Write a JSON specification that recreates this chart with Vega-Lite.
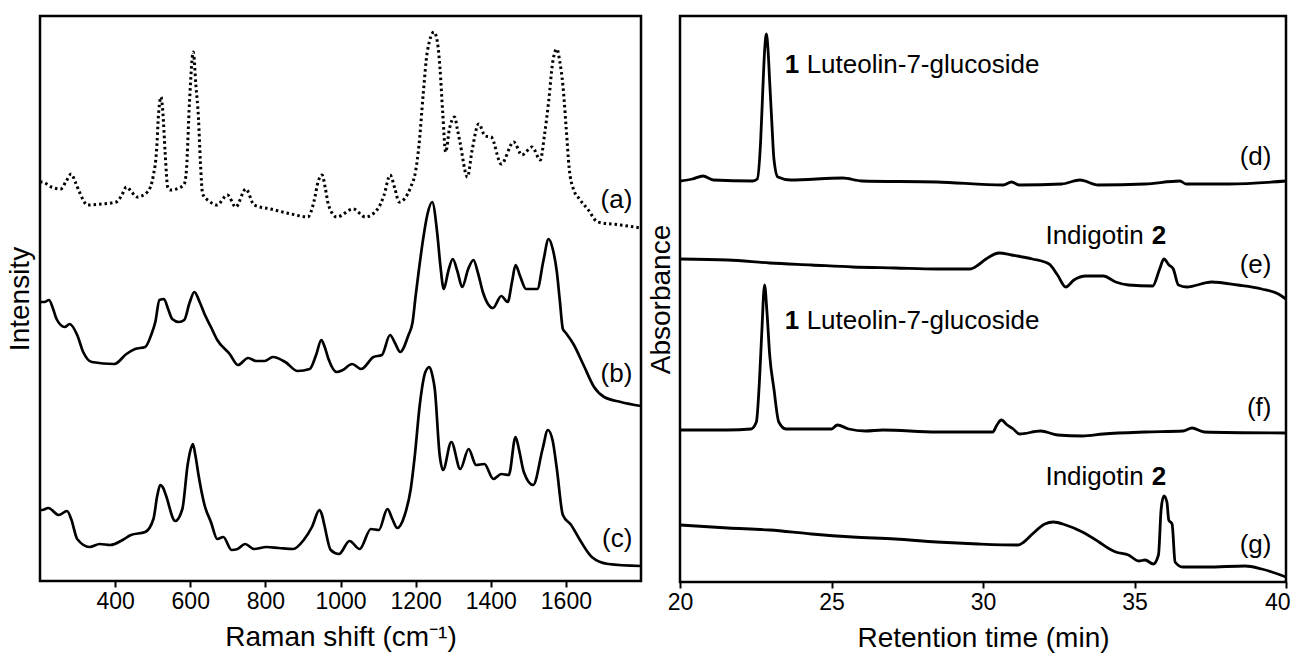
{
  "$schema": "https://vega.github.io/schema/vega-lite/v6.json",
  "autosize": {"type": "pad"},
  "padding": {"left": 4, "top": 14, "right": 0, "bottom": 0},
  "spacing": -4,
  "config": {
    "font": "Liberation Sans",
    "view": {"stroke": "black", "strokeWidth": 2.5},
    "axis": {
      "grid": false,
      "labelColor": "black",
      "titleColor": "black",
      "titleFontWeight": "normal",
      "titleFontSize": 28,
      "labelFontSize": 23,
      "labelFlush": false,
      "tickColor": "black",
      "tickWidth": 2,
      "tickSize": 6,
      "labelPadding": 3,
      "format": "d"
    }
  },
  "datasets": {
    "raman": [
      {"s":"a","x":200,"y":399},{"s":"a","x":206,"y":399},{"s":"a","x":230,"y":394},{"s":"a","x":255,"y":392},{"s":"a","x":270,"y":400},{"s":"a","x":283,"y":407},{"s":"a","x":295,"y":398},{"s":"a","x":305,"y":389},{"s":"a","x":327,"y":376},{"s":"a","x":365,"y":377},{"s":"a","x":403,"y":379},{"s":"a","x":418,"y":386},{"s":"a","x":430,"y":394},{"s":"a","x":440,"y":391},{"s":"a","x":458,"y":384},{"s":"a","x":486,"y":389},{"s":"a","x":502,"y":406},{"s":"a","x":510,"y":429},{"s":"a","x":516,"y":469},{"s":"a","x":522,"y":484},{"s":"a","x":527,"y":469},{"s":"a","x":533,"y":429},{"s":"a","x":540,"y":394},{"s":"a","x":546,"y":391},{"s":"a","x":570,"y":393},{"s":"a","x":584,"y":397},{"s":"a","x":590,"y":412},{"s":"a","x":598,"y":479},{"s":"a","x":608,"y":529},{"s":"a","x":615,"y":496},{"s":"a","x":622,"y":462},{"s":"a","x":627,"y":419},{"s":"a","x":633,"y":387},{"s":"a","x":650,"y":380},{"s":"a","x":671,"y":376},{"s":"a","x":699,"y":386},{"s":"a","x":721,"y":374},{"s":"a","x":748,"y":392},{"s":"a","x":770,"y":376},{"s":"a","x":814,"y":372},{"s":"a","x":869,"y":367},{"s":"a","x":913,"y":364},{"s":"a","x":929,"y":379},{"s":"a","x":941,"y":400},{"s":"a","x":951,"y":406},{"s":"a","x":960,"y":392},{"s":"a","x":968,"y":376},{"s":"a","x":990,"y":364},{"s":"a","x":1034,"y":372},{"s":"a","x":1066,"y":364},{"s":"a","x":1099,"y":372},{"s":"a","x":1116,"y":386},{"s":"a","x":1132,"y":406},{"s":"a","x":1145,"y":392},{"s":"a","x":1156,"y":379},{"s":"a","x":1187,"y":394},{"s":"a","x":1200,"y":410},{"s":"a","x":1209,"y":436},{"s":"a","x":1220,"y":486},{"s":"a","x":1231,"y":529},{"s":"a","x":1249,"y":549},{"s":"a","x":1258,"y":539},{"s":"a","x":1265,"y":512},{"s":"a","x":1272,"y":469},{"s":"a","x":1280,"y":429},{"s":"a","x":1290,"y":452},{"s":"a","x":1304,"y":464},{"s":"a","x":1311,"y":452},{"s":"a","x":1318,"y":439},{"s":"a","x":1338,"y":404},{"s":"a","x":1350,"y":430},{"s":"a","x":1368,"y":457},{"s":"a","x":1385,"y":445},{"s":"a","x":1401,"y":444},{"s":"a","x":1428,"y":417},{"s":"a","x":1461,"y":439},{"s":"a","x":1483,"y":426},{"s":"a","x":1510,"y":434},{"s":"a","x":1532,"y":421},{"s":"a","x":1543,"y":446},{"s":"a","x":1554,"y":479},{"s":"a","x":1565,"y":519},{"s":"a","x":1576,"y":532},{"s":"a","x":1584,"y":519},{"s":"a","x":1592,"y":496},{"s":"a","x":1601,"y":452},{"s":"a","x":1609,"y":412},{"s":"a","x":1620,"y":392},{"s":"a","x":1636,"y":382},{"s":"a","x":1658,"y":372},{"s":"a","x":1685,"y":359},{"s":"a","x":1746,"y":356},{"s":"a","x":1800,"y":353},
      {"s":"b","x":200,"y":279},{"s":"b","x":212,"y":279},{"s":"b","x":224,"y":281},{"s":"b","x":235,"y":272},{"s":"b","x":244,"y":262},{"s":"b","x":266,"y":254},{"s":"b","x":279,"y":257},{"s":"b","x":299,"y":246},{"s":"b","x":315,"y":229},{"s":"b","x":338,"y":219},{"s":"b","x":398,"y":217},{"s":"b","x":430,"y":227},{"s":"b","x":453,"y":232},{"s":"b","x":480,"y":234},{"s":"b","x":496,"y":246},{"s":"b","x":507,"y":259},{"s":"b","x":518,"y":281},{"s":"b","x":530,"y":282},{"s":"b","x":541,"y":272},{"s":"b","x":552,"y":262},{"s":"b","x":570,"y":259},{"s":"b","x":584,"y":261},{"s":"b","x":598,"y":278},{"s":"b","x":611,"y":289},{"s":"b","x":625,"y":279},{"s":"b","x":638,"y":267},{"s":"b","x":655,"y":254},{"s":"b","x":672,"y":241},{"s":"b","x":705,"y":227},{"s":"b","x":727,"y":216},{"s":"b","x":754,"y":223},{"s":"b","x":776,"y":220},{"s":"b","x":798,"y":220},{"s":"b","x":820,"y":224},{"s":"b","x":853,"y":219},{"s":"b","x":886,"y":210},{"s":"b","x":918,"y":212},{"s":"b","x":935,"y":226},{"s":"b","x":949,"y":241},{"s":"b","x":958,"y":234},{"s":"b","x":968,"y":222},{"s":"b","x":990,"y":209},{"s":"b","x":1006,"y":211},{"s":"b","x":1031,"y":217},{"s":"b","x":1055,"y":212},{"s":"b","x":1088,"y":224},{"s":"b","x":1110,"y":226},{"s":"b","x":1132,"y":246},{"s":"b","x":1145,"y":238},{"s":"b","x":1159,"y":229},{"s":"b","x":1181,"y":246},{"s":"b","x":1192,"y":259},{"s":"b","x":1200,"y":285},{"s":"b","x":1209,"y":312},{"s":"b","x":1220,"y":342},{"s":"b","x":1231,"y":366},{"s":"b","x":1244,"y":379},{"s":"b","x":1258,"y":346},{"s":"b","x":1266,"y":315},{"s":"b","x":1275,"y":292},{"s":"b","x":1287,"y":310},{"s":"b","x":1299,"y":322},{"s":"b","x":1311,"y":310},{"s":"b","x":1324,"y":294},{"s":"b","x":1340,"y":312},{"s":"b","x":1354,"y":321},{"s":"b","x":1366,"y":308},{"s":"b","x":1379,"y":289},{"s":"b","x":1406,"y":273},{"s":"b","x":1428,"y":285},{"s":"b","x":1445,"y":279},{"s":"b","x":1457,"y":300},{"s":"b","x":1466,"y":316},{"s":"b","x":1478,"y":305},{"s":"b","x":1494,"y":292},{"s":"b","x":1524,"y":292},{"s":"b","x":1540,"y":320},{"s":"b","x":1554,"y":342},{"s":"b","x":1565,"y":332},{"s":"b","x":1576,"y":309},{"s":"b","x":1584,"y":280},{"s":"b","x":1592,"y":252},{"s":"b","x":1598,"y":249},{"s":"b","x":1620,"y":237},{"s":"b","x":1647,"y":216},{"s":"b","x":1675,"y":194},{"s":"b","x":1702,"y":184},{"s":"b","x":1746,"y":179},{"s":"b","x":1800,"y":175},
      {"s":"c","x":200,"y":71},{"s":"c","x":206,"y":71},{"s":"c","x":222,"y":73},{"s":"c","x":250,"y":66},{"s":"c","x":272,"y":70},{"s":"c","x":283,"y":62},{"s":"c","x":299,"y":42},{"s":"c","x":332,"y":34},{"s":"c","x":359,"y":37},{"s":"c","x":387,"y":36},{"s":"c","x":420,"y":41},{"s":"c","x":442,"y":46},{"s":"c","x":480,"y":49},{"s":"c","x":502,"y":62},{"s":"c","x":512,"y":85},{"s":"c","x":520,"y":96},{"s":"c","x":528,"y":93},{"s":"c","x":535,"y":86},{"s":"c","x":560,"y":60},{"s":"c","x":579,"y":72},{"s":"c","x":593,"y":116},{"s":"c","x":600,"y":130},{"s":"c","x":607,"y":137},{"s":"c","x":614,"y":125},{"s":"c","x":622,"y":106},{"s":"c","x":638,"y":76},{"s":"c","x":655,"y":59},{"s":"c","x":672,"y":42},{"s":"c","x":688,"y":44},{"s":"c","x":710,"y":31},{"s":"c","x":726,"y":32},{"s":"c","x":746,"y":37},{"s":"c","x":770,"y":32},{"s":"c","x":803,"y":34},{"s":"c","x":836,"y":33},{"s":"c","x":874,"y":32},{"s":"c","x":902,"y":41},{"s":"c","x":924,"y":54},{"s":"c","x":944,"y":71},{"s":"c","x":950,"y":67},{"s":"c","x":957,"y":56},{"s":"c","x":974,"y":31},{"s":"c","x":996,"y":27},{"s":"c","x":1024,"y":40},{"s":"c","x":1051,"y":32},{"s":"c","x":1081,"y":52},{"s":"c","x":1102,"y":51},{"s":"c","x":1125,"y":72},{"s":"c","x":1138,"y":62},{"s":"c","x":1151,"y":53},{"s":"c","x":1171,"y":66},{"s":"c","x":1187,"y":92},{"s":"c","x":1198,"y":126},{"s":"c","x":1211,"y":176},{"s":"c","x":1226,"y":209},{"s":"c","x":1237,"y":214},{"s":"c","x":1245,"y":205},{"s":"c","x":1251,"y":192},{"s":"c","x":1264,"y":126},{"s":"c","x":1273,"y":111},{"s":"c","x":1295,"y":139},{"s":"c","x":1319,"y":112},{"s":"c","x":1341,"y":132},{"s":"c","x":1361,"y":116},{"s":"c","x":1383,"y":117},{"s":"c","x":1407,"y":102},{"s":"c","x":1428,"y":107},{"s":"c","x":1448,"y":106},{"s":"c","x":1466,"y":144},{"s":"c","x":1476,"y":130},{"s":"c","x":1488,"y":109},{"s":"c","x":1513,"y":96},{"s":"c","x":1538,"y":132},{"s":"c","x":1552,"y":151},{"s":"c","x":1565,"y":140},{"s":"c","x":1576,"y":112},{"s":"c","x":1592,"y":66},{"s":"c","x":1614,"y":56},{"s":"c","x":1636,"y":42},{"s":"c","x":1669,"y":24},{"s":"c","x":1713,"y":17},{"s":"c","x":1800,"y":15}
    ],
    "ramanLabels": [
      {"t":"(a)","x":1777,"y":381},{"t":"(b)","x":1777,"y":207},{"t":"(c)","x":1777,"y":42}
    ],
    "hplc": [
      {"s":"d","x":20,"y":401},{"s":"d","x":20.41,"y":403},{"s":"d","x":20.76,"y":406},{"s":"d","x":21.1,"y":402},{"s":"d","x":22.4,"y":401},{"s":"d","x":22.55,"y":403},{"s":"d","x":22.66,"y":440},{"s":"d","x":22.73,"y":490},{"s":"d","x":22.79,"y":530},{"s":"d","x":22.85,"y":548},{"s":"d","x":22.91,"y":530},{"s":"d","x":22.96,"y":500},{"s":"d","x":23.03,"y":460},{"s":"d","x":23.1,"y":423},{"s":"d","x":23.23,"y":405},{"s":"d","x":23.65,"y":402},{"s":"d","x":25.37,"y":404},{"s":"d","x":26.0,"y":401},{"s":"d","x":28.47,"y":400},{"s":"d","x":30.67,"y":397},{"s":"d","x":30.94,"y":400},{"s":"d","x":31.2,"y":397},{"s":"d","x":32.6,"y":398},{"s":"d","x":33.2,"y":402},{"s":"d","x":33.8,"y":397},{"s":"d","x":35.35,"y":398},{"s":"d","x":36.5,"y":401},{"s":"d","x":36.7,"y":398},{"s":"d","x":38.1,"y":398},{"s":"d","x":40,"y":401},
      {"s":"e","x":20,"y":323},{"s":"e","x":21.58,"y":322},{"s":"e","x":22.96,"y":319},{"s":"e","x":24.34,"y":317},{"s":"e","x":25.7,"y":315},{"s":"e","x":27.1,"y":314},{"s":"e","x":28.47,"y":313},{"s":"e","x":29.57,"y":313},{"s":"e","x":29.84,"y":317},{"s":"e","x":30.1,"y":323},{"s":"e","x":30.53,"y":329},{"s":"e","x":30.94,"y":327},{"s":"e","x":31.63,"y":323},{"s":"e","x":32.18,"y":318},{"s":"e","x":32.46,"y":307},{"s":"e","x":32.73,"y":295},{"s":"e","x":33.0,"y":302},{"s":"e","x":33.4,"y":306},{"s":"e","x":33.97,"y":306},{"s":"e","x":34.38,"y":300},{"s":"e","x":34.8,"y":297},{"s":"e","x":35.6,"y":296},{"s":"e","x":35.83,"y":313},{"s":"e","x":35.97,"y":323},{"s":"e","x":36.14,"y":317},{"s":"e","x":36.28,"y":313},{"s":"e","x":36.45,"y":297},{"s":"e","x":36.72,"y":295},{"s":"e","x":37.55,"y":300},{"s":"e","x":38.4,"y":297},{"s":"e","x":39.2,"y":293},{"s":"e","x":39.75,"y":288},{"s":"e","x":40,"y":283},
      {"s":"f","x":20,"y":152},{"s":"f","x":21.58,"y":152},{"s":"f","x":22.34,"y":153},{"s":"f","x":22.52,"y":160},{"s":"f","x":22.62,"y":200},{"s":"f","x":22.7,"y":250},{"s":"f","x":22.79,"y":297},{"s":"f","x":22.87,"y":270},{"s":"f","x":22.96,"y":227},{"s":"f","x":23.1,"y":193},{"s":"f","x":23.26,"y":160},{"s":"f","x":23.5,"y":153},{"s":"f","x":24.34,"y":153},{"s":"f","x":25.0,"y":153},{"s":"f","x":25.19,"y":157},{"s":"f","x":25.57,"y":153},{"s":"f","x":26.12,"y":151},{"s":"f","x":26.7,"y":152},{"s":"f","x":28.47,"y":150},{"s":"f","x":30.32,"y":150},{"s":"f","x":30.46,"y":157},{"s":"f","x":30.6,"y":162},{"s":"f","x":30.8,"y":157},{"s":"f","x":31.0,"y":153},{"s":"f","x":31.2,"y":148},{"s":"f","x":31.9,"y":151},{"s":"f","x":32.46,"y":147},{"s":"f","x":33.28,"y":146},{"s":"f","x":33.97,"y":148},{"s":"f","x":35.35,"y":150},{"s":"f","x":36.6,"y":151},{"s":"f","x":36.9,"y":154},{"s":"f","x":37.3,"y":150},{"s":"f","x":40,"y":149},
      {"s":"g","x":20,"y":57},{"s":"g","x":21.58,"y":54},{"s":"g","x":22.96,"y":52},{"s":"g","x":24.34,"y":48},{"s":"g","x":25.7,"y":45},{"s":"g","x":27.1,"y":43},{"s":"g","x":28.47,"y":40},{"s":"g","x":29.84,"y":38},{"s":"g","x":31.15,"y":37},{"s":"g","x":31.35,"y":40},{"s":"g","x":31.63,"y":48},{"s":"g","x":32.04,"y":58},{"s":"g","x":32.32,"y":60},{"s":"g","x":32.73,"y":57},{"s":"g","x":33.28,"y":50},{"s":"g","x":33.83,"y":40},{"s":"g","x":34.18,"y":33},{"s":"g","x":34.38,"y":30},{"s":"g","x":34.8,"y":27},{"s":"g","x":35.14,"y":21},{"s":"g","x":35.35,"y":22},{"s":"g","x":35.62,"y":18},{"s":"g","x":35.79,"y":27},{"s":"g","x":35.88,"y":73},{"s":"g","x":35.97,"y":86},{"s":"g","x":36.07,"y":80},{"s":"g","x":36.13,"y":62},{"s":"g","x":36.24,"y":58},{"s":"g","x":36.34,"y":20},{"s":"g","x":36.59,"y":15},{"s":"g","x":37.4,"y":15},{"s":"g","x":38.65,"y":16},{"s":"g","x":39.2,"y":13},{"s":"g","x":40,"y":5}
    ],
    "hplcLabels": [
      {"t":"(d)","x":39.52,"y":425},{"t":"(e)","x":39.52,"y":317},{"t":"(f)","x":39.52,"y":174},{"t":"(g)","x":39.52,"y":37}
    ],
    "annBold": [
      {"t":"1","x":23.46,"y":509},{"t":"1","x":23.46,"y":253},{"t":"2","x":35.57,"y":338},{"t":"2","x":35.57,"y":97}
    ],
    "annNormal": [
      {"t":"Luteolin-7-glucoside","x":24.18,"y":509},{"t":"Luteolin-7-glucoside","x":24.18,"y":253},{"t":"Indigotin","x":32.06,"y":338},{"t":"Indigotin","x":32.06,"y":97}
    ]
  },
  "hconcat": [
    {
      "width": 601,
      "height": 565,
      "encoding": {
        "x": {"field": "x", "type": "quantitative", "scale": {"domain": [200, 1800], "nice": false, "zero": false},
              "axis": {"title": "Raman shift (cm⁻¹)", "values": [400, 600, 800, 1000, 1200, 1400, 1600], "domain": false, "titlePadding": 10}},
        "y": {"field": "y", "type": "quantitative", "scale": {"domain": [0, 565], "nice": false, "zero": false},
              "axis": {"title": "Intensity", "labels": false, "ticks": false, "domain": false, "titlePadding": 6}}
      },
      "layer": [
        {
          "data": {"name": "raman"},
          "transform": [{"filter": "datum.s === 'a'"}],
          "mark": {"type": "line", "color": "black", "strokeWidth": 3, "strokeDash": [2.5, 3], "interpolate": "monotone"}
        },
        {
          "data": {"name": "raman"},
          "transform": [{"filter": "datum.s !== 'a'"}],
          "mark": {"type": "line", "color": "black", "strokeWidth": 2.7, "interpolate": "monotone"},
          "encoding": {"detail": {"field": "s"}}
        },
        {
          "data": {"name": "ramanLabels"},
          "mark": {"type": "text", "align": "right", "baseline": "middle", "fontSize": 26, "color": "black"},
          "encoding": {"text": {"field": "t"}}
        }
      ]
    },
    {
      "width": 606,
      "height": 566,
      "encoding": {
        "x": {"field": "x", "type": "quantitative", "scale": {"domain": [20, 40], "nice": false, "zero": false},
              "axis": {"title": "Retention time (min)", "values": [20, 25, 30, 35, 40], "domain": false, "titlePadding": 10,
                       "labelAlign": {"condition": {"test": "datum.value === 40", "value": "right"}, "value": "center"},
                       "labelOffset": {"condition": {"test": "datum.value === 40", "value": 4}, "value": 0}}},
        "y": {"field": "y", "type": "quantitative", "scale": {"domain": [0, 566], "nice": false, "zero": false},
              "axis": {"title": "Absorbance", "labels": false, "ticks": false, "domain": false, "titlePadding": 5}}
      },
      "layer": [
        {
          "data": {"name": "hplc"},
          "mark": {"type": "line", "color": "black", "strokeWidth": 2.8, "interpolate": "monotone"},
          "encoding": {"detail": {"field": "s"}}
        },
        {
          "data": {"name": "hplcLabels"},
          "mark": {"type": "text", "align": "right", "baseline": "middle", "fontSize": 26, "color": "black"},
          "encoding": {"text": {"field": "t"}}
        },
        {
          "data": {"name": "annBold"},
          "mark": {"type": "text", "align": "left", "baseline": "alphabetic", "fontSize": 26, "fontWeight": "bold", "color": "black"},
          "encoding": {"text": {"field": "t"}}
        },
        {
          "data": {"name": "annNormal"},
          "mark": {"type": "text", "align": "left", "baseline": "alphabetic", "fontSize": 26, "color": "black"},
          "encoding": {"text": {"field": "t"}}
        }
      ]
    }
  ]
}
